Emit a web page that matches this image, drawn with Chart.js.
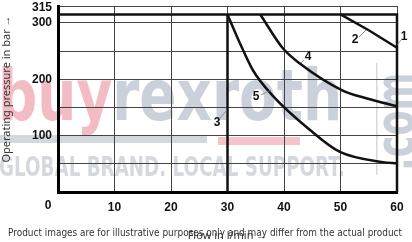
<!DOCTYPE html>
<html>
<head>
<meta charset="utf-8">
<script src="https://cdn.jsdelivr.net/npm/chart.js@4.4.0/dist/chart.umd.min.js"></script>
<style>
html, body { margin: 0; padding: 0; background: #fff; }
#wrap { width: 412px; height: 242px; }
</style>
</head>
<body>
<div id="wrap"><canvas id="chart1" width="412" height="242"></canvas></div>
<script>
// Kennlinien: Betriebsdruck ueber Volumenstrom
const curve1Flow = [0, 60, 60];
const curve1Pressure = [315, 315, 0];
const curve2Flow = [50, 55, 60];
const curve2Pressure = [315, 287, 256];
const curve3Flow = [30, 30];
const curve3Pressure = [315, 0];
const curve4Flow = [35.8, 39.8, 42.8, 50.4, 54.7, 60];
const curve4Pressure = [315, 255, 228, 180, 166, 152];
const curve5Flow = [30, 32.2, 34.5, 37.9, 44.6, 49.9, 57.5, 60];
const curve5Pressure = [315, 264, 216, 172, 110, 71, 53, 51];

const yTicks = [0, 50, 100, 150, 200, 250, 300, 315, 330];
const yLabels = [100, 200, 300];
const footerText = 'Product images are for illustrative purposes only and may differ from the actual product';

function toPoints(xs, ys) {
    return xs.map((x, i) => ({ x: x, y: ys[i] }));
}

function curve(label, xs, ys, smooth) {
    const ds = {
        label: label,
        data: toPoints(xs, ys),
        borderColor: '#111',
        borderWidth: 2.5,
        pointRadius: 0,
        fill: false,
        tension: 0,
        clip: false,
    };
    if (smooth) {
        ds.tension = 0.4;
        ds.cubicInterpolationMode = 'monotone';
    }
    return ds;
}

// Wasserzeichen unter dem Diagramm
const watermark = {
    id: 'watermark',
    beforeDraw(chart) {
        const ctx = chart.ctx;
        ctx.save();
        ctx.fillStyle = '#fff';
        ctx.fillRect(0, 0, chart.width, chart.height);

        ctx.font = 'bold 72px "DejaVu Sans"';
        const wBuy = ctx.measureText('buy').width;
        const wAll = ctx.measureText('buyrexroth').width;
        ctx.save();
        ctx.translate(-2, 120);
        ctx.scale(344 / wAll, 1);
        ctx.fillStyle = '#f3bcc5';
        ctx.fillText('buy', 0, 0);
        ctx.fillStyle = '#cbd1da';
        ctx.fillText('rexroth', wBuy, 0);
        ctx.restore();

        ctx.fillStyle = '#d3d8de';
        ctx.fillRect(0, 135, 207, 8);
        ctx.fillStyle = '#f5c3ca';
        ctx.fillRect(218, 137, 82, 8);

        ctx.font = 'bold 26px "DejaVu Sans"';
        ctx.fillStyle = '#d5d9df';
        ctx.fillText('GLOBAL BRAND. LOCAL SUPPORT.', -1, 176, 346);

        ctx.fillRect(376, 63, 1.5, 112);

        ctx.save();
        ctx.translate(414, 171);
        ctx.rotate(-Math.PI / 2);
        ctx.scale(0.65, 1);
        ctx.font = 'bold 56px "DejaVu Sans"';
        ctx.fillStyle = '#cbd1da';
        ctx.fillText('.com', 0, 0);
        ctx.restore();
        ctx.restore();
    }
};

// Kurvennummern, Sonderbeschriftungen, Fusszeile
const notes = {
    id: 'notes',
    afterDraw(chart) {
        const ctx = chart.ctx;
        const xs = chart.scales.x, ys = chart.scales.y;
        ctx.save();
        ctx.fillStyle = '#111';
        ctx.font = 'bold 12px "Liberation Sans"';
        ctx.textBaseline = 'middle';
        ctx.textAlign = 'right';
        ctx.fillText('315', 52, ys.getPixelForValue(315) - 7);
        ctx.textAlign = 'center';
        ctx.fillText('0', xs.getPixelForValue(0) - 10, 206);

        const marks = [
            { t: '1', x: 404, y: 37, l: [397, 45, 401, 40] },
            { t: '2', x: 355, y: 40, l: [359, 37, 366, 30] },
            { t: '3', x: 217, y: 123, l: [220, 118, 227, 110] },
            { t: '4', x: 308, y: 57, l: [301, 63, 304, 60] },
            { t: '5', x: 256, y: 97, l: [261, 95, 271, 90] },
        ];
        ctx.strokeStyle = '#777';
        ctx.lineWidth = 0.8;
        marks.forEach(m => {
            ctx.fillText(m.t, m.x, m.y);
            ctx.beginPath();
            ctx.moveTo(m.l[0], m.l[1]);
            ctx.lineTo(m.l[2], m.l[3]);
            ctx.stroke();
        });

        ctx.font = '10px "DejaVu Sans"';
        ctx.fillStyle = '#333';
        ctx.textAlign = 'left';
        ctx.fillText(footerText, 8, 233, 394);
        ctx.restore();
    }
};

const ctx = document.getElementById('chart1').getContext('2d');
const chart1 = new Chart(ctx, {
    type: 'line',
    data: {
        datasets: [
            curve('1', curve1Flow, curve1Pressure, false),
            curve('2', curve2Flow, curve2Pressure, false),
            curve('3', curve3Flow, curve3Pressure, false),
            curve('4', curve4Flow, curve4Pressure, true),
            curve('5', curve5Flow, curve5Pressure, true),
        ]
    },
    options: {
        responsive: false,
        animation: false,
        layout: { padding: { left: 0, right: 15, top: 6, bottom: 0 } },
        plugins: {
            legend: { display: false },
            tooltip: { enabled: false }
        },
        scales: {
            x: {
                type: 'linear',
                min: 0,
                max: 60,
                afterFit: s => { s.height = 50; s.paddingLeft = 0; s.paddingRight = 0; },
                ticks: {
                    stepSize: 10,
                    autoSkip: false,
                    maxRotation: 0,
                    padding: 8,
                    color: '#111',
                    font: { family: 'Liberation Sans', size: 12, weight: 'bold' },
                    callback: v => v === 0 ? '' : v
                },
                grid: { color: '#444', lineWidth: 1, drawTicks: false },
                border: { display: true, color: '#000', width: 3 },
                title: {
                    display: true,
                    text: 'Flow in l/min →',
                    color: '#333',
                    font: { family: 'Noto Sans', size: 11 },
                    padding: { top: 12, bottom: 0 }
                }
            },
            y: {
                type: 'linear',
                min: 0,
                max: 330,
                afterFit: s => { s.width = 58; s.paddingTop = 0; s.paddingBottom = 0; },
                afterBuildTicks: s => { s.ticks = yTicks.map(v => ({ value: v })); },
                ticks: {
                    autoSkip: false,
                    padding: 6,
                    color: '#111',
                    font: { family: 'Liberation Sans', size: 12, weight: 'bold' },
                    callback: v => yLabels.includes(v) ? String(v) : ''
                },
                grid: {
                    color: c => (c.tick && c.tick.value === 315) ? 'rgba(0,0,0,0)' : '#444',
                    lineWidth: 1,
                    drawTicks: false
                },
                border: { display: true, color: '#000', width: 3 },
                title: {
                    display: true,
                    text: '       Operating pressure in bar →',
                    color: '#333',
                    font: { family: 'Noto Sans', size: 11 },
                    padding: 0
                }
            }
        }
    },
    plugins: [watermark, notes]
});
</script>
</body>
</html>
